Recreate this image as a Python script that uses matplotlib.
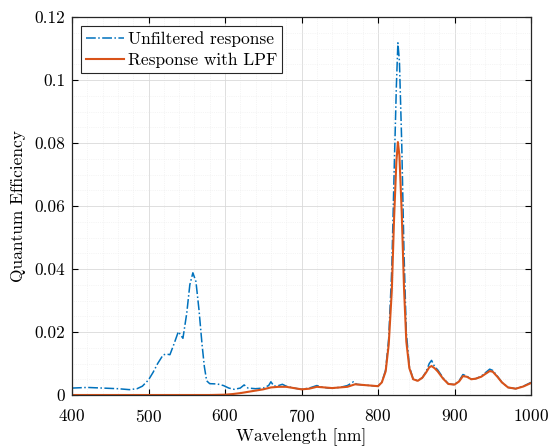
import numpy as np
import matplotlib

matplotlib.use("Agg")
import matplotlib.pyplot as plt
from matplotlib.ticker import MultipleLocator

# Values
wl_unf = [400, 420, 440, 460, 475, 485, 492, 500, 506, 512, 519, 523, 528, 533, 539,
          545, 550, 554, 558, 562, 566, 570, 573, 576, 580, 590, 598, 605, 612, 620,
          625, 630, 640, 650, 657, 660, 664, 670, 675, 680, 690, 700, 710, 720, 725,
          735, 750, 760, 768, 772, 780, 790, 800, 805, 810, 814, 818, 821, 824, 826,
          828, 831, 834, 837, 841, 846, 852, 858, 863, 867, 870, 874, 878, 885, 892,
          900, 906, 911, 916, 922, 928, 935, 941, 946, 950, 956, 962, 970, 980, 990, 1000]
qe_unf = [0.0022, 0.0024, 0.0022, 0.0020, 0.0017, 0.0020, 0.0028, 0.0048, 0.0072, 0.0100,
          0.0127, 0.0130, 0.0128, 0.0160, 0.0201, 0.0180, 0.0260, 0.0350, 0.0388, 0.0360,
          0.0270, 0.0160, 0.0090, 0.0045, 0.0036, 0.0035, 0.0030, 0.0022, 0.0018, 0.0022,
          0.0032, 0.0022, 0.0020, 0.0022, 0.0030, 0.0042, 0.0028, 0.0030, 0.0034, 0.0028,
          0.0022, 0.0018, 0.0022, 0.0030, 0.0026, 0.0022, 0.0024, 0.0030, 0.0042, 0.0034,
          0.0032, 0.0030, 0.0028, 0.0040, 0.0080, 0.0180, 0.0400, 0.0700, 0.0980, 0.1118,
          0.1060, 0.0800, 0.0450, 0.0200, 0.0090, 0.0050, 0.0045, 0.0055, 0.0075, 0.0100,
          0.0110, 0.0090, 0.0080, 0.0055, 0.0035, 0.0033, 0.0045, 0.0065, 0.0060, 0.0050,
          0.0052, 0.0060, 0.0072, 0.0082, 0.0078, 0.0060, 0.0040, 0.0024, 0.0020, 0.0028, 0.0040]

wl_lpf = [400, 500, 580, 600, 610, 620, 630, 640, 650, 660, 670, 680, 690, 700, 710,
          720, 730, 740, 750, 760, 770, 780, 790, 800, 805, 810, 814, 818, 821, 824,
          826, 828, 831, 834, 837, 841, 846, 852, 858, 863, 867, 870, 874, 878, 885,
          892, 900, 906, 911, 916, 922, 928, 935, 941, 946, 950, 956, 962, 970, 980, 990, 1000]
qe_lpf = [0.0000, 0.0000, 0.0000, 0.0001, 0.0003, 0.0006, 0.0010, 0.0014, 0.0018, 0.0024,
          0.0026, 0.0026, 0.0022, 0.0018, 0.0020, 0.0026, 0.0024, 0.0022, 0.0024, 0.0026,
          0.0034, 0.0032, 0.0030, 0.0028, 0.0040, 0.0075, 0.0160, 0.0330, 0.0560, 0.0740,
          0.0803, 0.0760, 0.0580, 0.0340, 0.0170, 0.0085, 0.0050, 0.0045, 0.0055, 0.0072,
          0.0088, 0.0092, 0.0085, 0.0075, 0.0052, 0.0035, 0.0033, 0.0043, 0.0060, 0.0058,
          0.0050, 0.0052, 0.0058, 0.0068, 0.0076, 0.0074, 0.0058, 0.0040, 0.0024, 0.0020,
          0.0027, 0.0038]

plt.rcParams["font.family"] = "serif"
plt.rcParams["font.serif"] = ["cmr10"]
plt.rcParams["mathtext.fontset"] = "cm"
plt.rcParams["axes.formatter.use_mathtext"] = True

fig = plt.figure(figsize=(5.51, 4.48), dpi=100)
ax = fig.add_axes([0.1307, 0.1183, 0.833, 0.8437])

ax.plot(wl_unf, qe_unf, "-.", color=(0.0, 0.447, 0.741), linewidth=1.1,
        label="Unfiltered response")
ax.plot(wl_lpf, qe_lpf, "-", color=(0.85, 0.325, 0.098), linewidth=1.5,
        label="Response with LPF")

ax.set_xlim(400, 1000)
ax.set_ylim(0, 0.12)
ax.xaxis.set_major_locator(MultipleLocator(100))
ax.xaxis.set_minor_locator(MultipleLocator(20))
ax.yaxis.set_minor_locator(MultipleLocator(0.005))
ax.set_yticks([0, 0.02, 0.04, 0.06, 0.08, 0.1, 0.12])
ax.set_yticklabels(["0", "0.02", "0.04", "0.06", "0.08", "0.1", "0.12"])

ax.grid(True, which="major", color="#d9d9d9", linewidth=0.6)
ax.grid(True, which="minor", color="#ececec", linewidth=0.5, linestyle=":")
ax.set_axisbelow(True)

ax.tick_params(which="both", direction="in", top=True, right=True, labelsize=12.5)
ax.tick_params(which="major", length=4, width=0.8)
ax.tick_params(which="minor", length=0)
ax.tick_params(axis="x", which="major", pad=9)
ax.tick_params(axis="y", which="major", pad=5)
for s in ax.spines.values():
    s.set_linewidth(0.9)
    s.set_color("#262626")

ax.set_xlabel("Wavelength [nm]", fontsize=12.5, labelpad=3)
ax.set_ylabel("Quantum Efficiency", fontsize=12.5, labelpad=6)

leg = ax.legend(loc="upper left", fontsize=12.5, frameon=True, fancybox=False,
                borderpad=0.3, handlelength=2.2, handletextpad=0.2,
                labelspacing=0.35, borderaxespad=0.5)
leg.get_frame().set_edgecolor("#262626")
leg.get_frame().set_linewidth(0.8)
leg.get_frame().set_alpha(1.0)

fig.savefig("out.png", dpi=100)
